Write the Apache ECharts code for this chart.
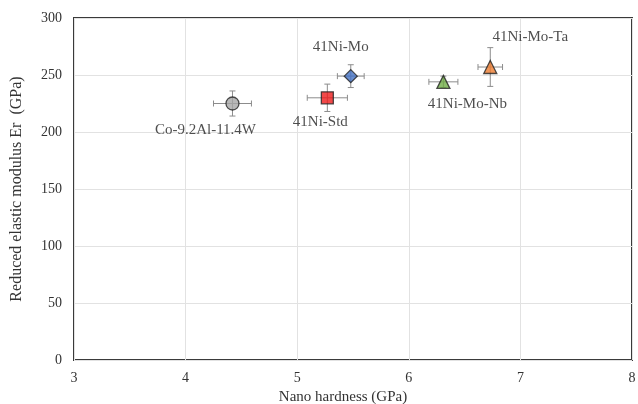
<!DOCTYPE html>
<html><head><meta charset="utf-8">
<script src="https://cdn.jsdelivr.net/npm/echarts@6/dist/echarts.min.js"></script>
<style>html,body{margin:0;padding:0;background:#fff}#c{width:638px;height:404px}</style>
</head><body><div id="c"></div>
<script>
const names = ['Co-9.2Al-11.4W', '41Ni-Std', '41Ni-Mo', '41Ni-Mo-Nb', '41Ni-Mo-Ta'];
const hardness = [4.42, 5.27, 5.48, 6.31, 6.73];
const modulus = [225, 230, 249, 244, 257];
const hardnessErr = [0.17, 0.18, 0.12, 0.13, 0.11];
const modulusErr = [11, 12, 10, 5, 17];
const xTicks = [3, 4, 5, 6, 7, 8];
const yTicks = [0, 50, 100, 150, 200, 250, 300];

const colors = ['#a6a6a6', '#ee1c1c', '#4472c4', '#70ad47', '#ed7d31'];
const symbols = ['circle', 'rect', 'diamond', 'triangle', 'triangle'];
const sizes = [13, 12, 13, 13, 13];
const labelOffsets = [[-27, 27], [-7, 24], [-10, -29], [24, 22], [40, -30]];
const font = '"Liberation Serif", "Times New Roman", serif';

const chart = echarts.init(document.getElementById('c'));
const errData = names.map((n, i) => [hardness[i], modulus[i], hardnessErr[i], modulusErr[i]]);

const option = {
  animation: false,
  grid: { left: 74, right: 6, top: 18, bottom: 44, containLabel: false, outerBoundsMode: 'none',
    show: true, borderColor: '#3a3a3a', borderWidth: 2, backgroundColor: 'transparent' },
  xAxis: {
    type: 'value', min: xTicks[0], max: xTicks[xTicks.length - 1], interval: 1,
    name: 'Nano hardness (GPa)', nameLocation: 'middle', nameGap: 23,
    nameTextStyle: { fontFamily: font, fontSize: 15, color: '#333', padding: [0, 20, 0, 0] },
    axisLine: { show: false }, axisTick: { show: false },
    axisLabel: { fontFamily: font, fontSize: 14, color: '#333', margin: 11 },
    splitLine: { show: true, lineStyle: { color: '#e2e2e2', width: 1 } }
  },
  yAxis: {
    type: 'value', min: yTicks[0], max: yTicks[yTicks.length - 1], interval: 50,
    name: 'Reduced elastic modulus Er  (GPa)', nameLocation: 'middle', nameGap: 49,
    nameTextStyle: { fontFamily: font, fontSize: 16, color: '#333' },
    axisLine: { show: false }, axisTick: { show: false },
    axisLabel: { fontFamily: font, fontSize: 14, color: '#333', margin: 12 },
    splitLine: { show: true, lineStyle: { color: '#e2e2e2', width: 1 } }
  },
  series: [
    {
      type: 'custom',
      data: errData,
      z: 2,
      renderItem: function (params, api) {
        const x = api.value(0), y = api.value(1), ex = api.value(2), ey = api.value(3);
        const l = api.coord([x - ex, y]), r = api.coord([x + ex, y]);
        const t = api.coord([x, y + ey]), b = api.coord([x, y - ey]);
        const c = 3;
        const st = { stroke: '#8c8c8c', lineWidth: 1 };
        return {
          type: 'group',
          children: [
            { type: 'line', shape: { x1: l[0], y1: l[1], x2: r[0], y2: r[1] }, style: st },
            { type: 'line', shape: { x1: l[0], y1: l[1] - c, x2: l[0], y2: l[1] + c }, style: st },
            { type: 'line', shape: { x1: r[0], y1: r[1] - c, x2: r[0], y2: r[1] + c }, style: st },
            { type: 'line', shape: { x1: t[0], y1: t[1], x2: b[0], y2: b[1] }, style: st },
            { type: 'line', shape: { x1: t[0] - c, y1: t[1], x2: t[0] + c, y2: t[1] }, style: st },
            { type: 'line', shape: { x1: b[0] - c, y1: b[1], x2: b[0] + c, y2: b[1] }, style: st }
          ]
        };
      }
    },
    {
      type: 'scatter',
      z: 3,
      data: names.map((n, i) => ({
        name: n,
        value: [hardness[i], modulus[i]],
        symbol: symbols[i],
        symbolSize: sizes[i],
        itemStyle: { color: colors[i], borderColor: '#222', borderWidth: 1.3 },
        label: { show: true, formatter: n, position: 'inside', offset: labelOffsets[i],
          fontFamily: font, fontSize: 15, color: '#222' }
      }))
    }
  ]
};
chart.setOption(option);
</script>
</body></html>
